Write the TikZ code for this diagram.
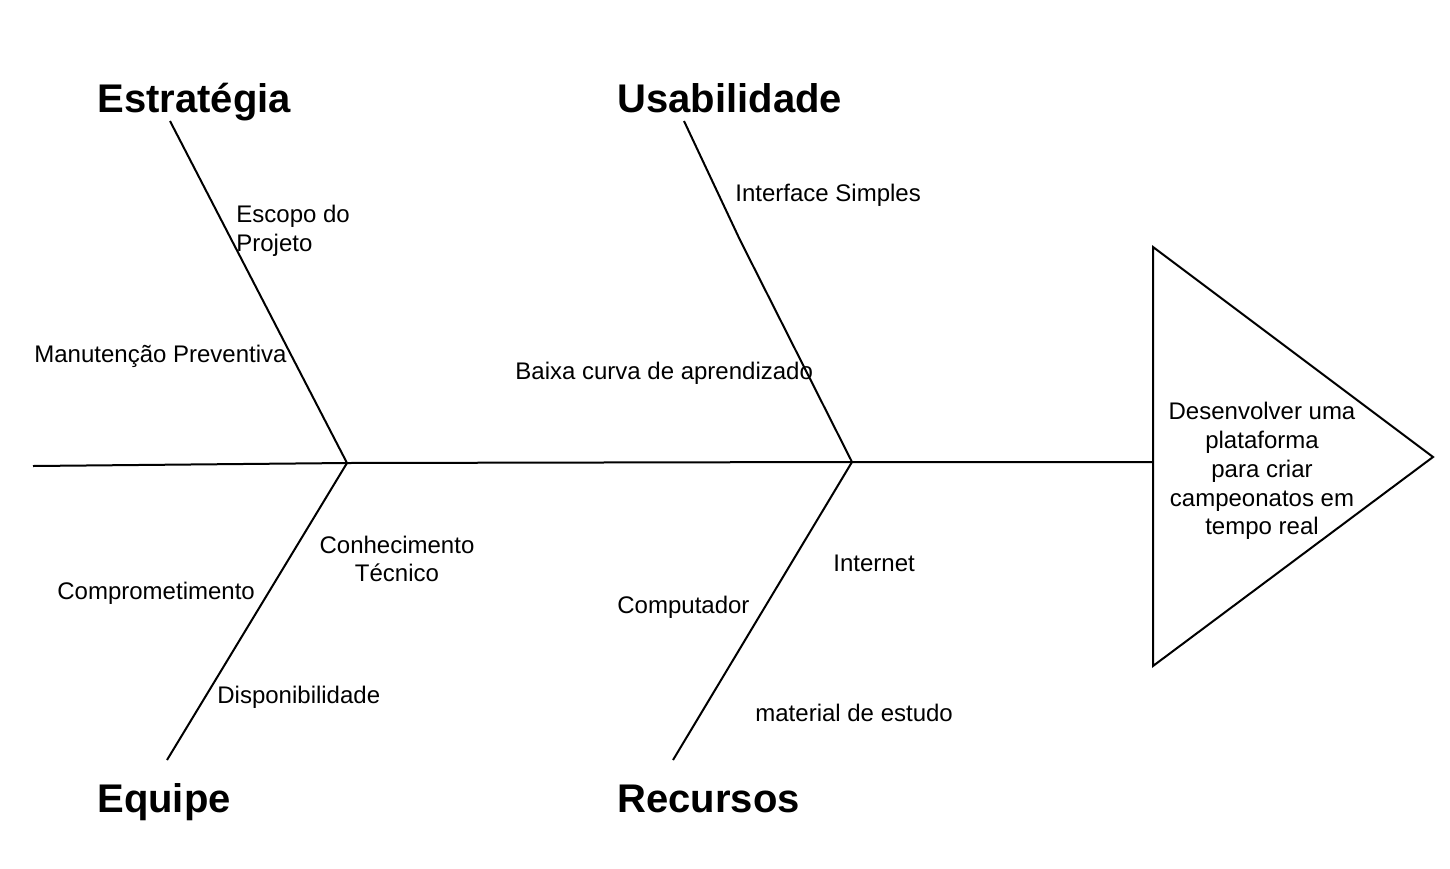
\documentclass[tikz,border=0pt]{standalone}
\usepackage{fontspec}
\setmainfont{Liberation Sans}
\begin{document}
\begin{tikzpicture}[x=0.5pt,y=-0.5pt,
  bone/.style={line width=1pt},
  cause/.style={font=\fontsize{12}{14.4}\selectfont, inner sep=0pt},
  head/.style={font=\fontsize{20}{24}\selectfont\bfseries, inner sep=0pt, anchor=base west}]
  \useasboundingbox (0,0) rectangle (1450,868);
  % spine and head
  \coordinate (tail) at (33,466);
  \coordinate (j1) at (347,463);
  \coordinate (j2) at (852,462);
  \coordinate (t1) at (1153,462);
  \coordinate (tt) at (1153,247);
  \coordinate (tb) at (1153,666);
  \coordinate (tp) at (1433,457);
  \draw[bone] (tail) -- (j1) -- (j2) -- (t1);
  \draw[bone] (tt) -- (tp) -- (tb) -- cycle;
  \node[cause, align=center] (goal) at (1262,471)
    {Desenvolver uma\\plataforma\\para criar\\campeonatos em\\tempo real};
  % bones
  \coordinate (e1) at (170,121);
  \coordinate (u1) at (684,121);
  \coordinate (u2) at (740,240);
  \coordinate (q1) at (167,760);
  \coordinate (r1) at (673,760);
  \draw[bone] (e1) -- (j1) -- (q1);
  \draw[bone] (u1) -- (u2) -- (j2) -- (r1);
  % headings
  \node[head] (estr) at (97,112) {Estratégia};
  \node[head] (usab) at (617,112) {Usabilidade};
  \node[head] (equi) at (97,812) {Equipe};
  \node[head] (recu) at (617,812) {Recursos};
  % causes
  \node[cause, anchor=west, align=left] (escopo) at (236,231) {Escopo do\\Projeto};
  \node[cause, anchor=west] (manut) at (34,356) {Manutenção Preventiva};
  \node[cause, anchor=west] (interf) at (735,195) {Interface Simples};
  \node[cause, anchor=west] (baixa) at (515,373) {Baixa curva de aprendizado};
  \node[cause, align=center] (conhec) at (397,559) {Conhecimento\\Técnico};
  \node[cause, anchor=west] (compr) at (57,593) {Comprometimento};
  \node[cause, anchor=west] (dispo) at (217,697) {Disponibilidade};
  \node[cause, anchor=west] (comput) at (617,607) {Computador};
  \node[cause, anchor=west] (inter) at (833,563) {Internet};
  \node[cause, anchor=west] (mater) at (755,713) {material de estudo};
\end{tikzpicture}
\end{document}
